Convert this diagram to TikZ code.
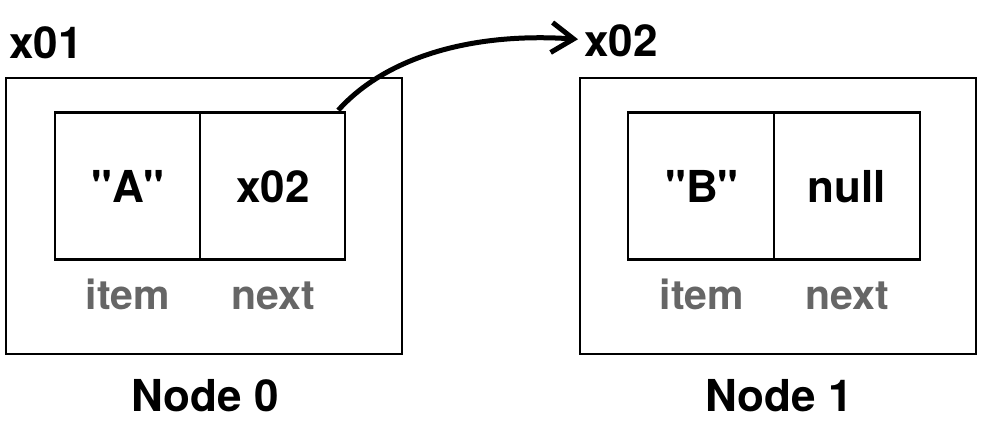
\documentclass[tikz,border=0pt]{standalone}
\usepackage{fontspec}
\newfontfamily\hv{TeX Gyre Heros}
\usetikzlibrary{arrows.meta}
\definecolor{lblgray}{HTML}{666666}
\begin{document}
\begin{tikzpicture}[x=1pt,y=1pt,
  outerbox/.style={draw=black,line width=2pt,inner sep=0pt},
  cell/.style={draw=black,line width=2.5pt,inner sep=0pt},
  bigtxt/.style={inner sep=0pt,font=\hv\fontsize{44}{48}\selectfont\bfseries,text=black},
  fieldlbl/.style={inner sep=0pt,font=\hv\fontsize{41}{46}\selectfont\bfseries,text=lblgray},
  ptr/.style={line width=5pt,-{Straight Barb[length=22pt,width=30pt,line width=5pt]}}
]
\useasboundingbox (0,0) rectangle (990,436);
% outer boxes
\draw[outerbox] (6,82) rectangle (402,358);
\draw[outerbox] (580,82) rectangle (976,358);
% cells node 0
\node[cell,minimum width=145pt,minimum height=147pt] (n0item) at (127.5,250) {};
\node[cell,minimum width=145pt,minimum height=147pt] (n0next) at (272.5,250) {};
% cells node 1
\node[cell,minimum width=146pt,minimum height=147pt] (n1item) at (701,250) {};
\node[cell,minimum width=146pt,minimum height=147pt] (n1next) at (847,250) {};
% cell contents
\node[bigtxt,anchor=base] (tA) at (128,233) {"A"};
\node[bigtxt,anchor=base] (tx) at (273,233) {x02};
\node[bigtxt,anchor=base] (tB) at (702,233) {"B"};
\node[bigtxt,anchor=base] (tn) at (847,233) {null};
% field labels
\node[fieldlbl,anchor=base] (i0) at (128,126) {item};
\node[fieldlbl,anchor=base] (x0) at (273,126) {next};
\node[fieldlbl,anchor=base] (i1) at (702,126) {item};
\node[fieldlbl,anchor=base] (x1) at (847,126) {next};
% addresses
\node[bigtxt,anchor=base west] (a0) at (9,377) {x01};
\node[bigtxt,anchor=base west] (a1) at (584,379) {x02};
% node names
\node[bigtxt,anchor=base] (nm0) at (205,24) {Node 0};
\node[bigtxt,anchor=base] (nm1) at (779,24) {Node 1};
% pointer
\coordinate (pstart) at ([xshift=-8pt,yshift=1pt]n0next.north east);
\coordinate (pend) at ([xshift=-6pt,yshift=2pt]a1.west);
\draw[ptr] (pstart) .. controls (385,378) and (470,404) .. (pend);
\end{tikzpicture}
\end{document}
